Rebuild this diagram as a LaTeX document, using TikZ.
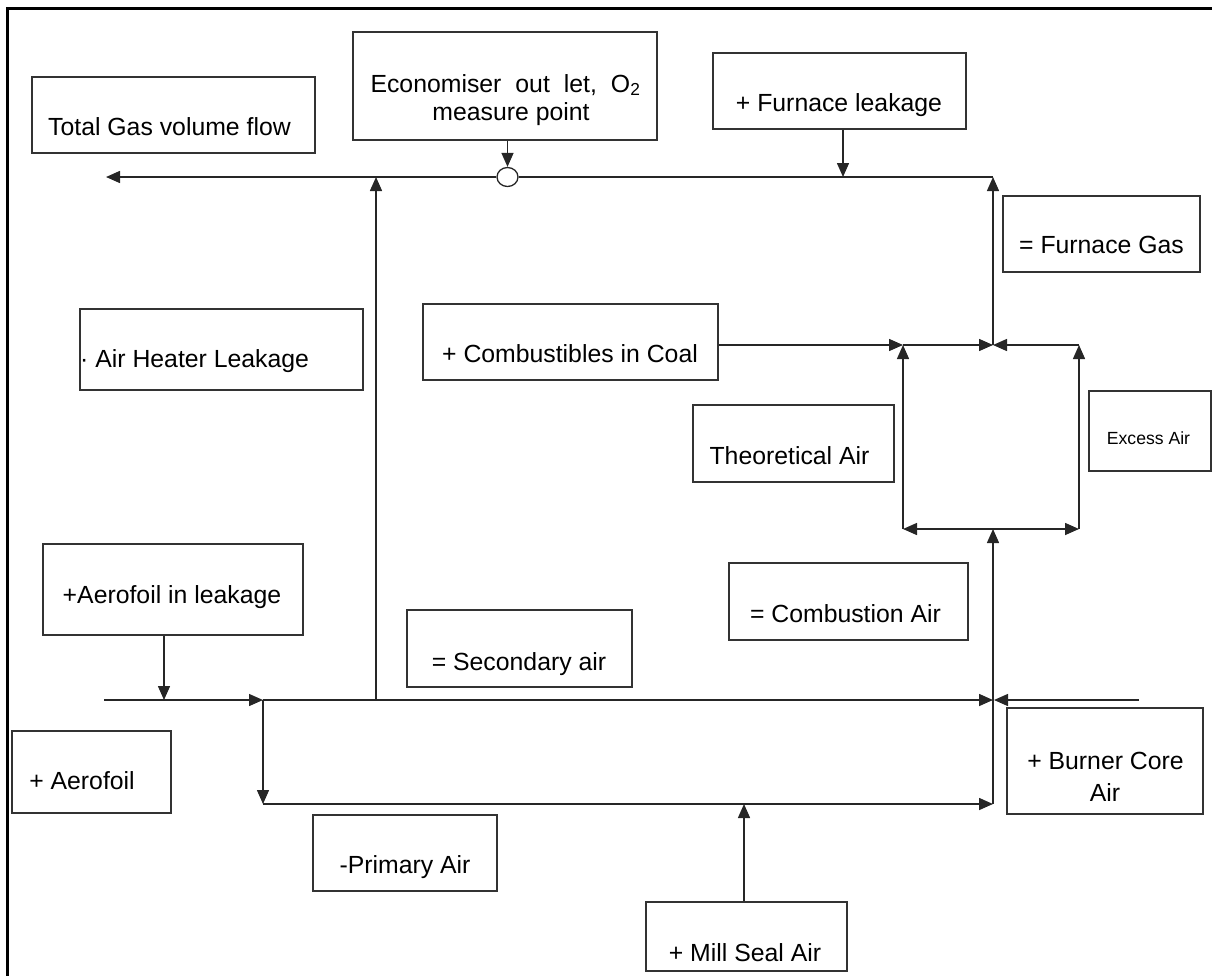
\documentclass[tikz,border=0pt]{standalone}
\usepackage{fontspec}
\setmainfont{Liberation Sans}
\usetikzlibrary{arrows.meta,calc,shapes.geometric}
\begin{document}
\begin{tikzpicture}[x=1pt,y=-1pt,
  box/.style={draw=black!80, line width=1.3pt, inner sep=0pt, fill=white},
  txt/.style={inner sep=0pt, anchor=base, font=\fontsize{24.8}{28}\selectfont},
  smalltxt/.style={inner sep=0pt, anchor=base, font=\fontsize{17.6}{20}\selectfont},
  ln/.style={draw=black!85, line width=1.5pt},
  arr/.style={ln, -{Triangle[length=14pt,width=12pt]}},
]
\useasboundingbox (0,0) rectangle (1212,975);
% frame
\draw[line width=3pt] (7,976) -- (7,8) -- (1213,8);

% boxes
\node[box, minimum width=283, minimum height=76] (tg) at (173.5,115) {};
\node[box, minimum width=304, minimum height=108] (eco) at (505,86) {};
\node[box, minimum width=253, minimum height=76] (fl) at (839.5,91) {};
\node[box, minimum width=197, minimum height=76] (fg) at (1101.5,234) {};
\node[box, minimum width=283, minimum height=81] (ah) at (221.5,349.5) {};
\node[box, minimum width=295, minimum height=76] (cc) at (570.5,342) {};
\node[box, minimum width=201, minimum height=77] (ta) at (793.5,443.5) {};
\node[box, minimum width=122, minimum height=80] (ea) at (1150,431) {};
\node[box, minimum width=239, minimum height=77] (ca) at (848.5,601.5) {};
\node[box, minimum width=225, minimum height=77] (sa) at (519.5,648.5) {};
\node[box, minimum width=260, minimum height=91] (afl) at (173,589.5) {};
\node[box, minimum width=159, minimum height=82] (af) at (91.5,772) {};
\node[box, minimum width=184, minimum height=76] (pa) at (405,853) {};
\node[box, minimum width=201, minimum height=69] (ms) at (746.5,936.5) {};
\node[box, minimum width=196, minimum height=106] (bc) at (1105,761) {};

% texts
\node[txt] (tg-t) at (169.5,135) {Total Gas volume flow};
\node[txt] (eco-t1) at (505.5,92) {Economiser\hspace{14pt}out\hspace{14pt}let,\hspace{14pt}O\textsubscript{2}};
\node[txt] (eco-t2) at (511,120) {measure point};
\node[txt] (fl-t) at (839,111) {+ Furnace leakage};
\node[txt] (fg-t) at (1101.5,253) {= Furnace Gas};
\node[txt, anchor=base west] (ah-t) at (80,367) {· Air Heater Leakage};
\node[txt] (cc-t) at (570,362) {+ Combustibles in Coal};
\node[txt] (ta-t) at (789.5,464) {Theoretical Air};
\node[smalltxt] (ea-t) at (1148.5,444) {Excess Air};
\node[txt] (ca-t) at (845.5,622) {= Combustion Air};
\node[txt] (sa-t) at (519,670) {= Secondary air};
\node[txt] (afl-t) at (172,603) {+Aerofoil in leakage};
\node[txt] (af-t) at (82,789) {+ Aerofoil};
\node[txt] (pa-t) at (405,873) {-Primary Air};
\node[txt] (ms-t) at (745,961) {+ Mill Seal Air};
\node[txt] (bc-t1) at (1105.5,769) {+ Burner Core};
\node[txt] (bc-t2) at (1105,801) {Air};

% coordinates
\coordinate (gl) at (106,177);
\coordinate (top) at (993,177);
\coordinate (flj) at (843,177);
\coordinate (sg) at (376,177);
\coordinate (M) at (993,345);
\coordinate (TL) at (903,345);
\coordinate (TR) at (1079,345);
\coordinate (BL) at (903,529);
\coordinate (BR) at (1079,529);
\coordinate (BM) at (993,529);
\coordinate (A0) at (104,700);
\coordinate (AFJ) at (164,700);
\coordinate (AJ) at (263,700);
\coordinate (SJ) at (376,700);
\coordinate (CJ) at (993,700);
\coordinate (RE) at (1139,700);
\coordinate (PB) at (263,804);
\coordinate (PE) at (993,804);
\coordinate (MS) at (744,804);

% O2 measure point
\node[draw=black!85, line width=1.3pt, fill=white, ellipse, minimum width=21, minimum height=19, inner sep=0pt] (o2) at (507.5,177) {};

% gas line
\draw[ln] (top) -- (o2.east);
\draw[arr] (o2.west) -- (gl);
\draw[arr] (o2.north |- eco.south) -- (o2.north);
\draw[arr] (flj |- fl.south) -- (flj);
\draw[arr] (M) -- (top);
\draw[arr] (SJ) -- (sg);

% furnace square
\draw[arr] (cc.east |- TL) -- (TL);
\draw[arr] (BL) -- (TL);
\draw[arr] (BR) -- (TR);
\draw[arr] (TL) -- (M);
\draw[arr] (TR) -- (M);
\draw[arr] (BM) -- (BL);
\draw[arr] (BM) -- (BR);

% air lines
\draw[arr] (AFJ |- afl.south) -- (AFJ);
\draw[arr] (A0) -- (AJ);
\draw[arr] (AJ) -- (CJ);
\draw[arr] (RE) -- ($(CJ)+(1,0)$);
\draw[arr] (AJ) -- (PB);
\draw[arr] (PB) -- (PE);
\draw[arr] (PE) -- (BM);
\draw[arr] (MS |- ms.north) -- (MS);
\end{tikzpicture}
\end{document}
